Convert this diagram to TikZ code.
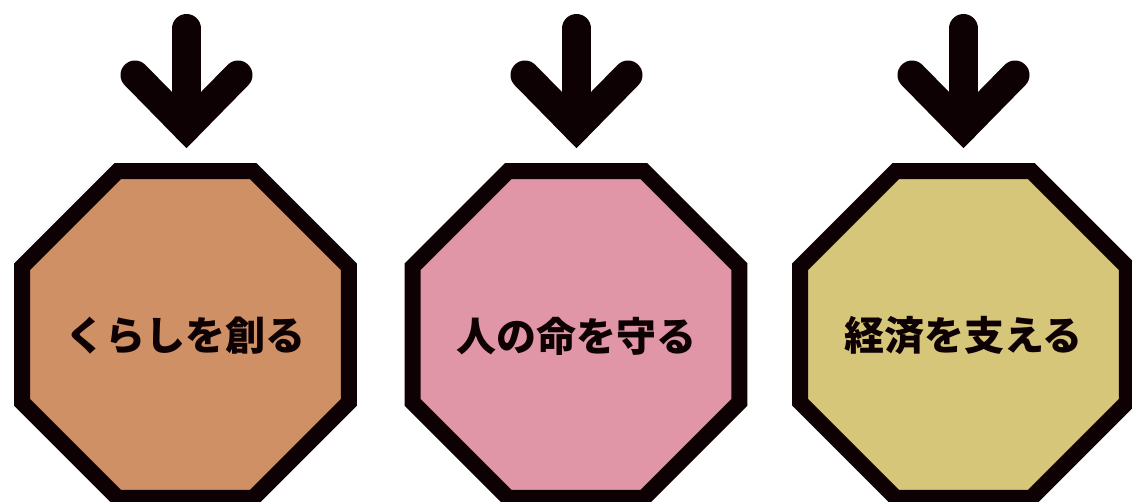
\documentclass[tikz,border=0pt]{standalone}
\usepackage{fontspec}
\newfontfamily\jp{Noto Sans CJK JP}
\usetikzlibrary{shapes.geometric}
\definecolor{ink}{HTML}{0E0103}
\definecolor{fillA}{HTML}{CF9065}
\definecolor{fillB}{HTML}{E096A6}
\definecolor{fillC}{HTML}{D6C67A}
\tikzset{
  octa/.style={regular polygon, regular polygon sides=8, inner sep=0pt, outer sep=0pt,
    minimum size=353.9pt, draw=ink, line width=16pt, line join=miter},
  octalabel/.style={inner sep=0pt, text=ink, font=\jp\bfseries\fontsize{40}{40}\selectfont},
  downarrow/.style={draw=ink, line width=29pt, line cap=round, line join=miter}
}
\begin{document}
\begin{tikzpicture}[x=1pt, y=-1pt]
\useasboundingbox (0,0) rectangle (1132,501);
\node[octa, fill=fillA] (o1) at (185.5,334.5) {};
\node[octa, fill=fillB] (o2) at (576,334.5) {};
\node[octa, fill=fillC] (o3) at (963.5,334.5) {};
\node[octalabel] (t1) at ([yshift=-1.5pt]o1.center) {くらしを創る};
\node[octalabel] (t2) at ([yshift=-1.5pt]o2.center) {人の命を守る};
\node[octalabel] (t3) at ([yshift=-1.5pt]o3.center) {経済を支える};
\foreach \n/\cx in {1/186.5, 2/576.5, 3/963.5}{
  \coordinate (top\n) at (\cx,28.5);
  \coordinate (tip\n) at (\cx,127.5);
  \coordinate (armL\n) at (\cx-51.5,75);
  \coordinate (armR\n) at (\cx+51.5,75);
  \draw[downarrow] (top\n) -- (tip\n);
  \draw[downarrow] (armL\n) -- (tip\n) -- (armR\n);
}
\end{tikzpicture}
\end{document}
